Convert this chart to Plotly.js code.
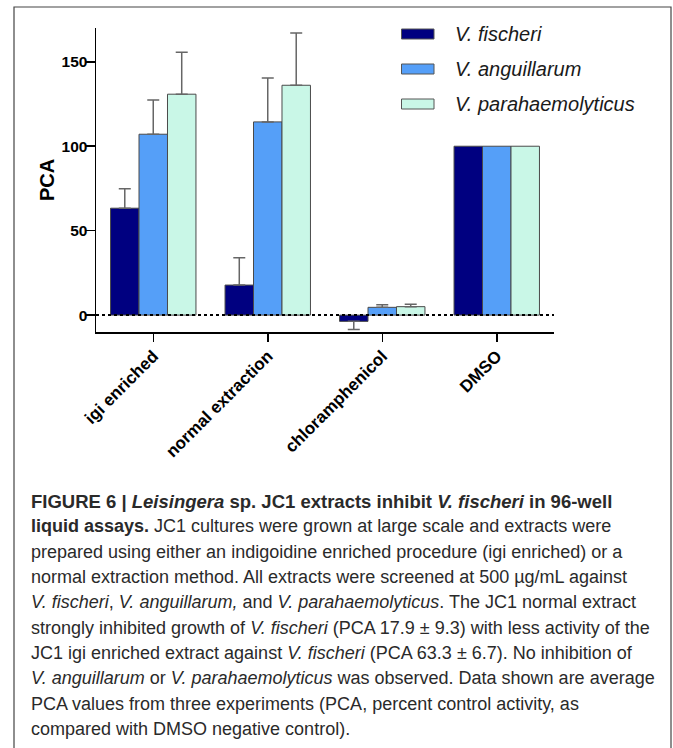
<!DOCTYPE html>
<html>
<head>
<meta charset="utf-8">
<script src="https://cdn.plot.ly/plotly-3.0.1.min.js"></script>
<style>html,body{margin:0;padding:0;background:#fff;}#chart{width:673px;height:748px;}</style>
</head>
<body>
<div id="chart"></div>
<script>
// ---- data ----
const categories = ['igi enriched', 'normal extraction', 'chloramphenicol', 'DMSO'];
const seriesNames = ['V. fischeri', 'V. anguillarum', 'V. parahaemolyticus'];
const fischeri = [63.3, 17.8, -3.7, 100];
const fischeriErrUp = [11.5, 16.2, 0, NaN];
const fischeriErrDown = [0, 0, 4.8, NaN];
const anguillarum = [107.1, 114.4, 4.6, 100];
const anguillarumErrUp = [20.3, 26.0, 1.5, NaN];
const parahaemolyticus = [130.8, 136.1, 5.0, 100];
const parahaemolyticusErrUp = [24.8, 31.0, 1.5, NaN];
const yTickVals = [0, 50, 100, 150];
const captionLines = [
  '<b>FIGURE 6 | <i>Leisingera</i> sp. JC1 extracts inhibit <i>V. fischeri</i> in 96-well</b>',
  '<b>liquid assays.</b> JC1 cultures were grown at large scale and extracts were',
  'prepared using either an indigoidine enriched procedure (igi enriched) or a',
  'normal extraction method. All extracts were screened at 500 \u00b5g/mL against',
  '<i>V. fischeri</i>, <i>V. anguillarum,</i> and <i>V. parahaemolyticus</i>. The JC1 normal extract',
  'strongly inhibited growth of <i>V. fischeri</i> (PCA 17.9 \u00b1 9.3) with less activity of the',
  'JC1 igi enriched extract against <i>V. fischeri</i> (PCA 63.3 \u00b1 6.7). No inhibition of',
  '<i>V. anguillarum</i> or <i>V. parahaemolyticus</i> was observed. Data shown are average',
  'PCA values from three experiments (PCA, percent control activity, as',
  'compared with DMSO negative control).'
];

// ---- styles ----
const colors = ['#000080', '#559ff8', '#c9f7e7'];
const W = 673, H = 748;
const M = {l: 96, r: 119, t: 28, b: 416};
const PW = W - M.l - M.r, PH = H - M.t - M.b;
const px = v => (v - M.l) / PW;          // pixel x -> paper x
const py = v => 1 - (v - M.t) / PH;      // pixel y -> paper y
const FONT = 'Liberation Sans, Arial, sans-serif';

const errStyle = {color: '#666666', thickness: 1.5, width: 6};
function bar(name, y, up, down, color) {
  return {
    type: 'bar', name: name, x: categories, y: y, showlegend: false,
    marker: {color: color, line: {color: '#4a4a4a', width: 1}},
    error_y: Object.assign({type: 'data', symmetric: false, array: up,
      arrayminus: down || up.map(v => isNaN(v) ? NaN : 0), visible: true}, errStyle),
    hoverinfo: 'x+y'
  };
}
const data = [
  bar(seriesNames[0], fischeri, fischeriErrUp, fischeriErrDown, colors[0]),
  bar(seriesNames[1], anguillarum, anguillarumErrUp, null, colors[1]),
  bar(seriesNames[2], parahaemolyticus, parahaemolyticusErrUp, null, colors[2])
];

const shapes = [
  // figure frame
  {type: 'rect', xref: 'paper', yref: 'paper', x0: px(14), x1: px(671), y0: py(7), y1: py(760),
   line: {color: '#444', width: 1.2}, fillcolor: 'rgba(0,0,0,0)', layer: 'below'},
  // dotted zero line
  {type: 'line', xref: 'paper', yref: 'y', x0: 0, x1: 1, y0: 0, y1: 0,
   line: {color: '#000', width: 2, dash: 'dot'}, layer: 'above'}
];
const annotations = [];
// legend
const legendY = [34, 69, 104];
seriesNames.forEach((n, i) => {
  shapes.push({type: 'rect', xref: 'paper', yref: 'paper',
    x0: px(401.5), x1: px(434), y0: py(legendY[i] - 5), y1: py(legendY[i] + 5),
    fillcolor: colors[i], line: {color: '#555', width: 1}});
  annotations.push({xref: 'paper', yref: 'paper', x: px(453), y: py(legendY[i]),
    xanchor: 'left', yanchor: 'middle', showarrow: false, text: '<i>' + n + '</i>',
    font: {family: FONT, size: 20, color: '#1a1a1a'}});
});
// caption
captionLines.forEach((t, i) => {
  annotations.push({xref: 'paper', yref: 'paper', x: px(29), y: py(501 + i * 25.35),
    xanchor: 'left', yanchor: 'middle', showarrow: false, align: 'left', text: t,
    font: {family: FONT, size: i === 0 ? 18.5 : 18, color: '#2a2a2a'}});
});

const layout = {
  width: W, height: H, margin: M,
  paper_bgcolor: '#fff', plot_bgcolor: '#fff',
  barmode: 'group', bargap: 0.254, bargroupgap: 0,
  showlegend: false,
  xaxis: {
    type: 'category', range: [-0.5, 3.5], showgrid: false, zeroline: false,
    showline: true, linecolor: '#000', linewidth: 1.5,
    ticks: 'outside', ticklen: 8, tickwidth: 1.5, tickcolor: '#000',
    tickangle: -45, ticklabelstandoff: -2,
    tickfont: {family: FONT, size: 17, color: '#000', weight: 'bold'}
  },
  yaxis: {
    range: [-10, 170], tickvals: yTickVals, ticktext: yTickVals.map(String),
    showgrid: false, zeroline: false,
    showline: true, linecolor: '#000', linewidth: 1.5,
    ticks: 'outside', ticklen: 9, tickwidth: 1.5, tickcolor: '#000',
    ticklabelstandoff: -5,
    tickfont: {family: FONT, size: 15.5, color: '#000', weight: 'bold'},
    title: {text: 'PCA', standoff: 1, font: {family: FONT, size: 20, color: '#000', weight: 'bold'}}
  },
  shapes: shapes,
  annotations: annotations
};
Plotly.newPlot('chart', data, layout, {displayModeBar: false, staticPlot: true});
</script>
</body>
</html>
